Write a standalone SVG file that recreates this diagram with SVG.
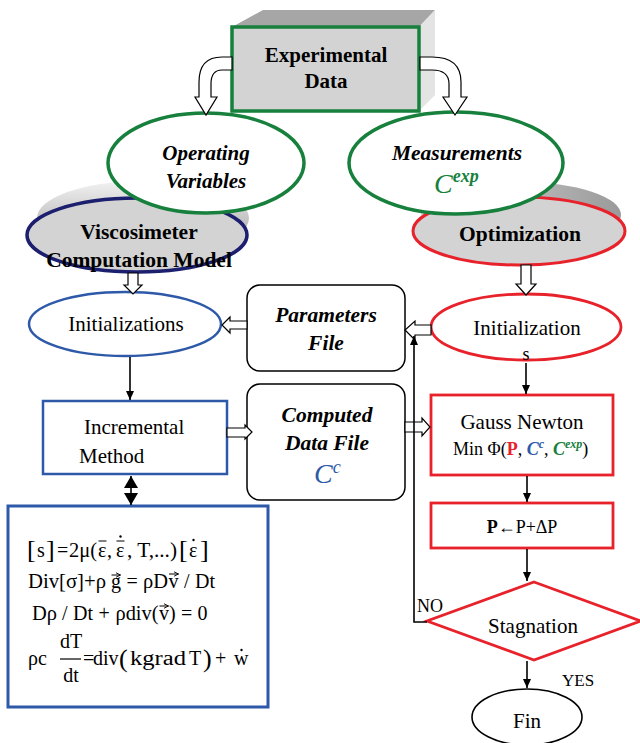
<svg xmlns="http://www.w3.org/2000/svg" width="640" height="743" viewBox="0 0 640 743">
<defs>
<marker id="ah" markerWidth="10" markerHeight="10" refX="9" refY="5" orient="auto" markerUnits="userSpaceOnUse">
<path d="M0,1 L9,5 L0,9 Z" fill="#000"/>
</marker>
<marker id="ah2" markerWidth="14" markerHeight="14" refX="12" refY="7" orient="auto-start-reverse" markerUnits="userSpaceOnUse">
<path d="M0,0 L12,7 L0,14 Z" fill="#000"/>
</marker>
<marker id="vec" markerWidth="6" markerHeight="6" refX="5" refY="3" orient="auto" markerUnits="userSpaceOnUse">
<path d="M0,0.5 L5,3 L0,5.5" fill="none" stroke="#000" stroke-width="0.9"/>
</marker>
<linearGradient id="shadow" x1="0" y1="0" x2="0" y2="1">
<stop offset="0" stop-color="#f2f2f2"/>
<stop offset="0.6" stop-color="#bdbdbd"/>
<stop offset="1" stop-color="#8c8c8c"/>
</linearGradient>
<linearGradient id="shadow2" x1="0" y1="0" x2="1" y2="0">
<stop offset="0" stop-color="#d9d9d9"/>
<stop offset="1" stop-color="#9a9a9a"/>
</linearGradient>
</defs>
<style>
text{font-family:"Liberation Serif","Times New Roman",serif;fill:#000}
.b{font-weight:bold}
.bi{font-weight:bold;font-style:italic}
.c{text-anchor:middle}
.green{stroke:#16803c;stroke-width:3.5;fill:#fff}
.red{stroke:#e8222b;stroke-width:2.8;fill:#fff}
.blue{stroke:#2d59a8;stroke-width:2.5;fill:#fff}
.blk{stroke:#000;stroke-width:1.5;fill:#fff}
.line{stroke:#000;stroke-width:1.6;fill:none}
.barrow{fill:#fff;stroke:#000;stroke-width:1.2}
.eq{font-size:20px}
.br{font-size:26px}
.mk{stroke:#000;stroke-width:1;fill:none}
</style>

<g id="experimental-data">
<polygon points="232,27 263,10 435,10 419,27" fill="#a6a6a6"/>
<polygon points="419,27 435,10 435,95 419,111" fill="#e4e4e4"/>
<rect x="232" y="27" width="187" height="84" fill="#d3d3d3" stroke="#16803c" stroke-width="3.5"/>
<text class="b c" x="326" y="62" font-size="21">Experimental</text>
<text class="b c" x="326" y="88" font-size="21">Data</text>
</g>

<g id="viscosimeter">
<ellipse cx="143" cy="218" rx="106" ry="37" fill="url(#shadow)"/>
<ellipse cx="137" cy="235" rx="110" ry="37" fill="#d3d3d3" stroke="#1b1f6e" stroke-width="3.5"/>
<text class="b c" x="139" y="239" font-size="21.5">Viscosimeter</text>
<text class="b c" x="139" y="267" font-size="21.5">Computation Model</text>
</g>

<g id="optimization">
<ellipse cx="521" cy="215" rx="100" ry="33" fill="url(#shadow2)"/>
<ellipse cx="519" cy="231" rx="106" ry="34" fill="#d3d3d3" stroke="#e8222b" stroke-width="3"/>
<text class="b c" x="520" y="241" font-size="21.5">Optimization</text>
</g>

<g id="operating-variables">
<ellipse class="green" cx="206" cy="163" rx="98" ry="50"/>
<text class="bi c" x="206" y="160" font-size="21">Operating</text>
<text class="bi c" x="206" y="188" font-size="21">Variables</text>
</g>

<g id="measurements">
<ellipse class="green" cx="456" cy="163" rx="107" ry="51"/>
<text class="bi c" x="457" y="160" font-size="21.5">Measurements</text>
<text x="434" y="193" font-size="28" font-style="italic" style="fill:#16803c">C<tspan font-size="18" font-weight="bold" dy="-11">exp</tspan></text>
</g>

<g id="initializations">
<ellipse class="blue" cx="125" cy="324" rx="96" ry="32"/>
<text class="c" x="126" y="331" font-size="21">Initializations</text>
</g>

<g id="parameters-file">
<rect class="blk" x="247" y="285" width="158" height="86" rx="13"/>
<text class="bi c" x="326" y="322" font-size="21.5">Parameters</text>
<text class="bi c" x="326" y="350" font-size="21.5">File</text>
</g>

<g id="computed-data-file">
<rect class="blk" x="247" y="384" width="158" height="116" rx="13"/>
<text class="bi c" x="327" y="422" font-size="21.5">Computed</text>
<text class="bi c" x="327" y="450" font-size="21.5">Data File</text>
<text x="314" y="483" font-size="28" font-style="italic" style="fill:#2d59a8">C<tspan font-size="18" dy="-10">c</tspan></text>
</g>

<g id="incremental-method">
<rect class="blue" x="43" y="401" width="184" height="73"/>
<text x="84" y="434" font-size="21">Incremental</text>
<text x="79" y="463" font-size="21">Method</text>
</g>

<g id="equations">
<rect x="8" y="506" width="260" height="201" fill="#fff" stroke="#2d59a8" stroke-width="3"/>
<text class="br" x="27" y="558">[</text>
<text class="eq" x="37" y="557">s</text>
<text class="br" x="46" y="558">]</text>
<text class="eq" x="57" y="557">=</text>
<text class="eq" x="69" y="557" textLength="28" lengthAdjust="spacingAndGlyphs">2μ(</text>
<text class="eq" x="98" y="557">ε</text>
<text class="eq" x="107" y="557">,</text>
<text class="eq" x="116" y="557">ε</text>
<text class="eq" x="127" y="557" textLength="50" lengthAdjust="spacingAndGlyphs">, T,...)</text>
<text class="br" x="179" y="558">[</text>
<text class="eq" x="189" y="557">ε</text>
<text class="br" x="200" y="558">]</text>
<line class="mk" x1="98.5" y1="541" x2="106.5" y2="541"/>
<line class="mk" x1="116.5" y1="541" x2="124.5" y2="541"/>
<circle cx="120.5" cy="536.5" r="1.2" fill="#000"/>
<circle cx="193.5" cy="540" r="1.2" fill="#000"/>

<text class="eq" x="28" y="588" textLength="78" lengthAdjust="spacingAndGlyphs">Div[σ]+ρ</text>
<text class="eq" x="111" y="588">g</text>
<line class="mk" x1="111.5" y1="575" x2="120.5" y2="575" marker-end="url(#vec)"/>
<text class="eq" x="126.5" y="588">=</text>
<text class="eq" x="143" y="588" textLength="25" lengthAdjust="spacingAndGlyphs">ρD</text>
<text class="eq" x="168.5" y="588">v</text>
<line class="mk" x1="169" y1="574" x2="178.5" y2="574" marker-end="url(#vec)"/>
<text class="eq" x="184" y="588">/</text>
<text class="eq" x="195" y="588">Dt</text>

<text class="eq" x="32" y="620" textLength="25" lengthAdjust="spacingAndGlyphs">Dρ</text>
<text class="eq" x="62" y="620">/</text>
<text class="eq" x="73" y="620">Dt</text>
<text class="eq" x="98.5" y="620">+</text>
<text class="eq" x="115.5" y="620" textLength="43" lengthAdjust="spacingAndGlyphs">ρdiv(</text>
<text class="eq" x="159" y="620">v</text>
<line class="mk" x1="159.5" y1="606" x2="168.5" y2="606" marker-end="url(#vec)"/>
<text class="eq" x="169" y="620">)</text>
<text class="eq" x="181" y="620">=</text>
<text class="eq" x="197.5" y="620">0</text>

<text class="eq" x="28" y="665">ρc</text>
<text class="eq c" x="71" y="648">dT</text>
<text class="eq c" x="71" y="682">dt</text>
<line x1="60" y1="659" x2="81" y2="659" stroke="#000" stroke-width="1.2"/>
<text class="eq" x="83" y="665">=</text>
<text class="eq" x="93" y="665">div</text>
<text class="br" x="119" y="667">(</text>
<text class="eq" x="130" y="665" textLength="56" lengthAdjust="spacingAndGlyphs">kgrad</text>
<text class="eq" x="189" y="665">T</text>
<text class="br" x="203" y="667">)</text>
<text class="eq" x="215" y="665">+</text>
<text class="eq" x="234" y="665">w</text>
<circle cx="241.5" cy="650" r="1.2" fill="#000"/>
</g>

<g id="initialization">
<ellipse class="red" cx="526" cy="327" rx="95" ry="33"/>
<text class="c" x="527" y="335" font-size="21">Initialization</text>
</g>

<g id="gauss-newton">
<rect class="red" x="431" y="395" width="182" height="80"/>
<text class="c" x="522" y="429" font-size="21">Gauss Newton</text>
<text x="453" y="455" font-size="18">Min Φ(<tspan font-weight="bold" style="fill:#e8222b">P</tspan>, <tspan font-style="italic" font-weight="bold" style="fill:#2d59a8">C<tspan font-size="12" dy="-7">c</tspan></tspan><tspan dy="7">, </tspan><tspan font-style="italic" font-weight="bold" style="fill:#16803c">C<tspan font-size="12" dy="-7">exp</tspan></tspan><tspan dy="7">)</tspan></text>
</g>

<g id="update">
<rect class="red" x="431" y="503" width="182" height="45"/>
<text class="c" x="522" y="533" font-size="18"><tspan font-weight="bold">P</tspan>←P+ΔP</text>
</g>

<g id="stagnation">
<polygon points="534,582 641,621 534,660 427,621" fill="#fff" stroke="#e8222b" stroke-width="2.8"/>
<text class="c" x="533" y="633" font-size="21">Stagnation</text>
</g>

<g id="fin">
<ellipse cx="527" cy="717" rx="55" ry="28" fill="#fff" stroke="#000" stroke-width="1.6"/>
<text class="c" x="527" y="728" font-size="21">Fin</text>
</g>

<g id="connectors">
<path class="barrow" d="M232,57 L222,57 Q199,57 199,82 L199,97 L195,97 L206,115 L217,97 L211,97 L211,84 Q211,70 222,70 L232,70 Z"/>
<path class="barrow" d="M420,57 L432,57 Q461,57 461,82 L461,97 L467,97 L455,115 L443,97 L449,97 L449,84 Q449,70 432,70 L420,70 Z"/>
<path class="barrow" d="M128,273 L138,273 L138,285 L142,285 L133,294 L124,285 L128,285 Z"/>
<path class="barrow" d="M521,265 L531,265 L531,284 L536,284 L526,295 L516,284 L521,284 Z"/>
<path class="barrow" d="M247,321 L230,321 L230,317 L222,325 L230,333 L230,329 L247,329 Z"/>
<path class="barrow" d="M227,428 L245,428 L245,425 L252,432 L245,439 L245,437 L227,437 Z"/>
<path class="barrow" d="M405,422 L422,422 L422,418 L430,427 L422,436 L422,432 L405,432 Z"/>
<path class="barrow" d="M431,325 L415,325 L415,321 L405,330 L415,340 L415,335 L431,335 Z"/>
<line class="line" x1="130" y1="357" x2="130" y2="400" marker-end="url(#ah)"/>
<line class="line" x1="131" y1="476" x2="131" y2="505" marker-start="url(#ah2)" marker-end="url(#ah2)" stroke-width="2"/>
<line class="line" x1="526" y1="363" x2="526" y2="394" marker-end="url(#ah)"/>
<line class="line" x1="527" y1="476" x2="527" y2="502" marker-end="url(#ah)"/>
<line class="line" x1="527" y1="549" x2="527" y2="581" marker-end="url(#ah)"/>
<line class="line" x1="527" y1="661" x2="527" y2="688" marker-end="url(#ah)"/>
<polyline class="line" points="427,622 414,622 414,336" marker-end="url(#ah)"/>
<text x="526" y="360" font-size="18" class="c">s</text>
<text x="417" y="612" font-size="18">NO</text>
<text x="562" y="686" font-size="17">YES</text>
</g>
</svg>
